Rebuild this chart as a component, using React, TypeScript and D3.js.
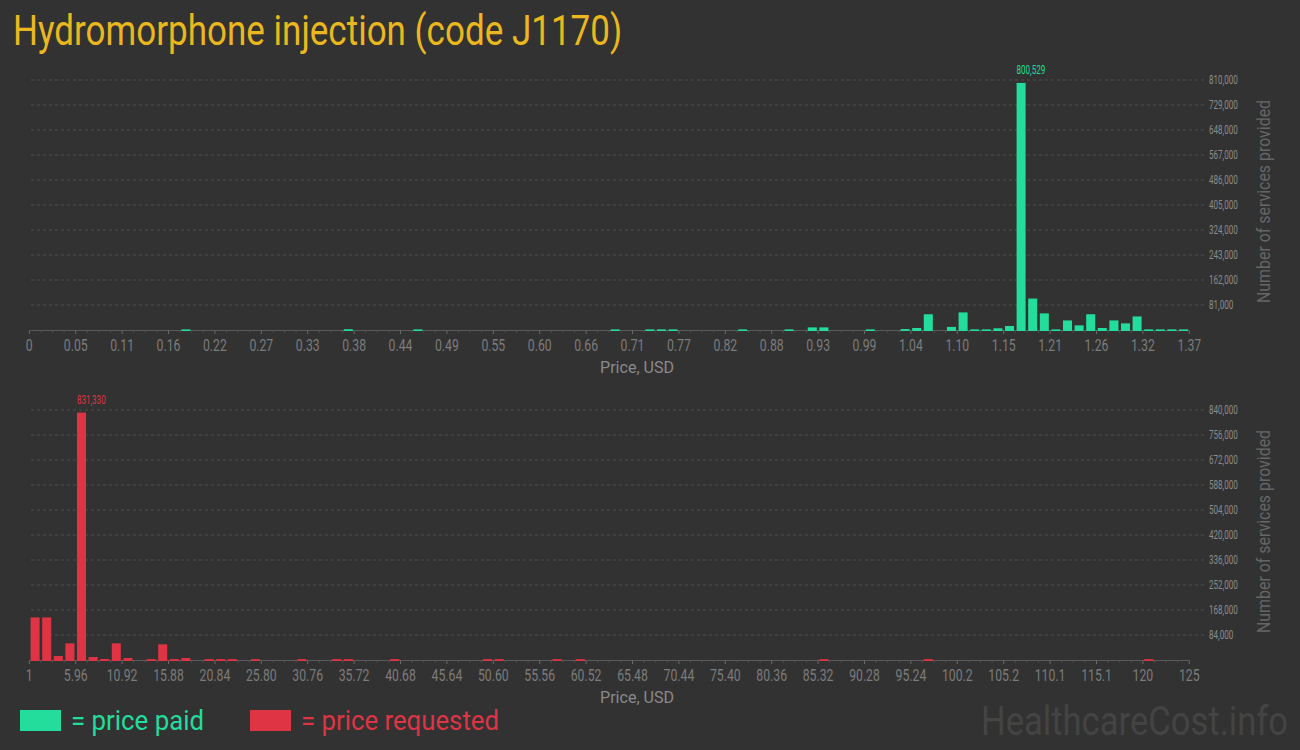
import React, { useLayoutEffect, useRef, useState } from "react";
import * as d3 from "d3";

const W = 1300;
const H = 750;

// ---- Data ----
const titleText = "Hydromorphone injection (code J1170)";

const paidTickLabels = ["0", "0.05", "0.11", "0.16", "0.22", "0.27", "0.33", "0.38", "0.44", "0.49", "0.55", "0.60", "0.66", "0.71", "0.77", "0.82", "0.88", "0.93", "0.99", "1.04", "1.10", "1.15", "1.21", "1.26", "1.32", "1.37"];
const paidDomain = [0, 1.37];
const paidBinIndex = [13, 27, 33, 50, 53, 54, 55, 61, 65, 67, 68, 72, 75, 76, 77, 79, 80, 81, 82, 83, 84, 85, 86, 87, 88, 89, 90, 91, 92, 93, 94, 95, 96, 97, 98, 99];
const paidCounts = [2000, 2500, 2000, 2000, 2000, 2000, 2000, 2000, 2000, 8500, 8500, 2000, 3000, 6500, 51000, 10000, 57000, 2000, 2000, 5500, 13000, 800529, 102000, 54000, 2000, 31000, 15000, 51000, 6500, 31000, 21500, 44000, 2000, 2000, 2000, 2000];
const paidYTicks = [81000, 162000, 243000, 324000, 405000, 486000, 567000, 648000, 729000, 810000];

const reqTickLabels = ["1", "5.96", "10.92", "15.88", "20.84", "25.80", "30.76", "35.72", "40.68", "45.64", "50.60", "55.56", "60.52", "65.48", "70.44", "75.40", "80.36", "85.32", "90.28", "95.24", "100.2", "105.2", "110.1", "115.1", "120", "125"];
const reqDomain = [1, 125];
const reqBinIndex = [0, 1, 2, 3, 4, 5, 6, 7, 8, 10, 11, 12, 13, 15, 16, 17, 19, 23, 26, 27, 31, 39, 40, 45, 47, 68, 77, 96];
const reqCounts = [143000, 143000, 13400, 56000, 831330, 10000, 3400, 56000, 6700, 3000, 52600, 3000, 6700, 3000, 3000, 3000, 3000, 3000, 3000, 3000, 3000, 3000, 3000, 3000, 3000, 3000, 3000, 3000];
const reqYTicks = [84000, 168000, 252000, 336000, 420000, 504000, 588000, 672000, 756000, 840000];

const BIN_COUNT = 100;

const BG = "#323232";
const GREEN = "#22DD9B";
const RED = "#DE3444";
const GOLD = "#EBB71E";
const FONT = "Roboto, 'DejaVu Sans', sans-serif";

const fmt = d3.format(",");

function textW(s: string, digit: number, punct: number) {
  let w = 0;
  for (const c of s) w += /[0-9]/.test(c) ? digit : punct;
  return w;
}

type FitProps = {
  x: number;
  y: number;
  width: number;
  anchor?: "start" | "middle" | "end";
  fontSize: number;
  fill: string;
  children: string;
};

function FitText({ x, y, width, anchor = "start", fontSize, fill, children }: FitProps) {
  const ref = useRef<SVGTextElement>(null);
  const [s, setS] = useState(0.8);
  useLayoutEffect(() => {
    if (ref.current) {
      const w = ref.current.getComputedTextLength();
      if (w > 0) setS(width / w);
    }
  }, [width, children, fontSize]);
  const tx = anchor === "middle" ? x - width / 2 : anchor === "end" ? x - width : x;
  return (
    <text
      ref={ref}
      transform={`translate(${tx},${y}) scale(${s},1)`}
      x={0}
      y={0}
      fontSize={fontSize}
      fill={fill}
      fontFamily={FONT}
    >
      {children}
    </text>
  );
}

type PanelProps = {
  color: string;
  tickLabels: string[];
  domain: number[];
  binIndex: number[];
  counts: number[];
  yTicks: number[];
  baseY: number;
};

function Panel({ color, tickLabels, domain, binIndex, counts, yTicks, baseY }: PanelProps) {
  const x0 = 29.3;
  const x1 = 1189.3;
  const yMax = yTicks[yTicks.length - 1];
  const y = d3.scaleLinear().domain([0, yMax]).range([baseY, baseY - 250]);
  const band = d3
    .scaleBand<number>()
    .domain(d3.range(BIN_COUNT))
    .range([x0, x1])
    .paddingInner(0.22)
    .paddingOuter(0.11);
  const px = d3.scaleLinear().domain(domain).range([x0, x1]);
  const step = (domain[1] - domain[0]) / (tickLabels.length - 1);
  const binW = (domain[1] - domain[0]) / BIN_COUNT;

  let maxI = 0;
  counts.forEach((c, i) => {
    if (c > counts[maxI]) maxI = i;
  });

  return (
    <g>
      {yTicks.map((t) => (
        <line
          key={"g" + t}
          x1={31}
          x2={1204}
          y1={y(t)}
          y2={y(t)}
          stroke="#4e4e4e"
          strokeWidth={1}
          strokeDasharray="3,3"
        />
      ))}
      {yTicks.map((t) => {
        const s = fmt(t);
        return (
          <FitText key={"yl" + t} x={1209} y={y(t) + 4} width={textW(s, 4.4, 2.3)} fontSize={12} fill="#8c8c8c">
            {s}
          </FitText>
        );
      })}
      <line x1={x0} x2={x1} y1={baseY + 0.5} y2={baseY + 0.5} stroke="#5a5a5a" strokeWidth={1} />
      {d3.range(BIN_COUNT + 1).map((k) => {
        const xv = px(domain[0] + k * binW);
        const major = k % 4 === 0;
        return (
          <line
            key={"t" + k}
            x1={xv}
            x2={xv}
            y1={baseY + 0.5}
            y2={baseY + (major ? 4 : 2.5)}
            stroke={major ? "#6a6a6a" : "#555"}
            strokeWidth={1}
          />
        );
      })}
      {binIndex.map((b, i) => {
        const top = Math.min(y(counts[i]), baseY - 0.6);
        return (
          <rect
            key={"b" + b}
            x={band(b)}
            y={top}
            width={band.bandwidth()}
            height={baseY + 1 - top}
            fill={color}
          />
        );
      })}
      <FitText
        x={band(binIndex[maxI]) as number}
        y={y(counts[maxI]) - 9}
        width={textW(fmt(counts[maxI]), 4.4, 2.3)}
        fontSize={12}
        fill={color}
      >
        {fmt(counts[maxI])}
      </FitText>
      {tickLabels.map((l, k) => {
        const xv = px(domain[0] + k * step);
        return (
          <FitText
            key={"xl" + k}
            x={xv}
            y={baseY + 21}
            width={textW(l, 6.9, 3.1)}
            anchor="middle"
            fontSize={16}
            fill="#7c7c7c"
          >
            {l}
          </FitText>
        );
      })}
      <FitText x={637} y={baseY + 43} width={74} anchor="middle" fontSize={17} fill="#8a8a8a">
        Price, USD
      </FitText>
      <g transform={`translate(1270, ${baseY - 128.5}) rotate(-90)`}>
        <FitText x={0} y={0} width={203} anchor="middle" fontSize={19} fill="#666">
          Number of services provided
        </FitText>
      </g>
    </g>
  );
}

export default function App() {
  return (
    <svg
      width={W}
      height={H}
      style={{ position: "absolute", left: 0, top: 0, display: "block" }}
    >
      <rect x={0} y={0} width={W} height={H} fill={BG} />
      <FitText x={13} y={45} width={609} fontSize={42} fill={GOLD}>
        {titleText}
      </FitText>
      <Panel
        color={GREEN}
        tickLabels={paidTickLabels}
        domain={paidDomain}
        binIndex={paidBinIndex}
        counts={paidCounts}
        yTicks={paidYTicks}
        baseY={330}
      />
      <Panel
        color={RED}
        tickLabels={reqTickLabels}
        domain={reqDomain}
        binIndex={reqBinIndex}
        counts={reqCounts}
        yTicks={reqYTicks}
        baseY={660}
      />
      <rect x={20} y={710} width={41} height={21} fill={GREEN} />
      <FitText x={71} y={730} width={133} fontSize={27} fill={GREEN}>
        = price paid
      </FitText>
      <rect x={250} y={710} width={41} height={21} fill={RED} />
      <FitText x={301} y={730} width={198} fontSize={27} fill={RED}>
        = price requested
      </FitText>
      <FitText x={981} y={735} width={307} fontSize={41} fill="#444">
        HealthcareCost.info
      </FitText>
    </svg>
  );
}
